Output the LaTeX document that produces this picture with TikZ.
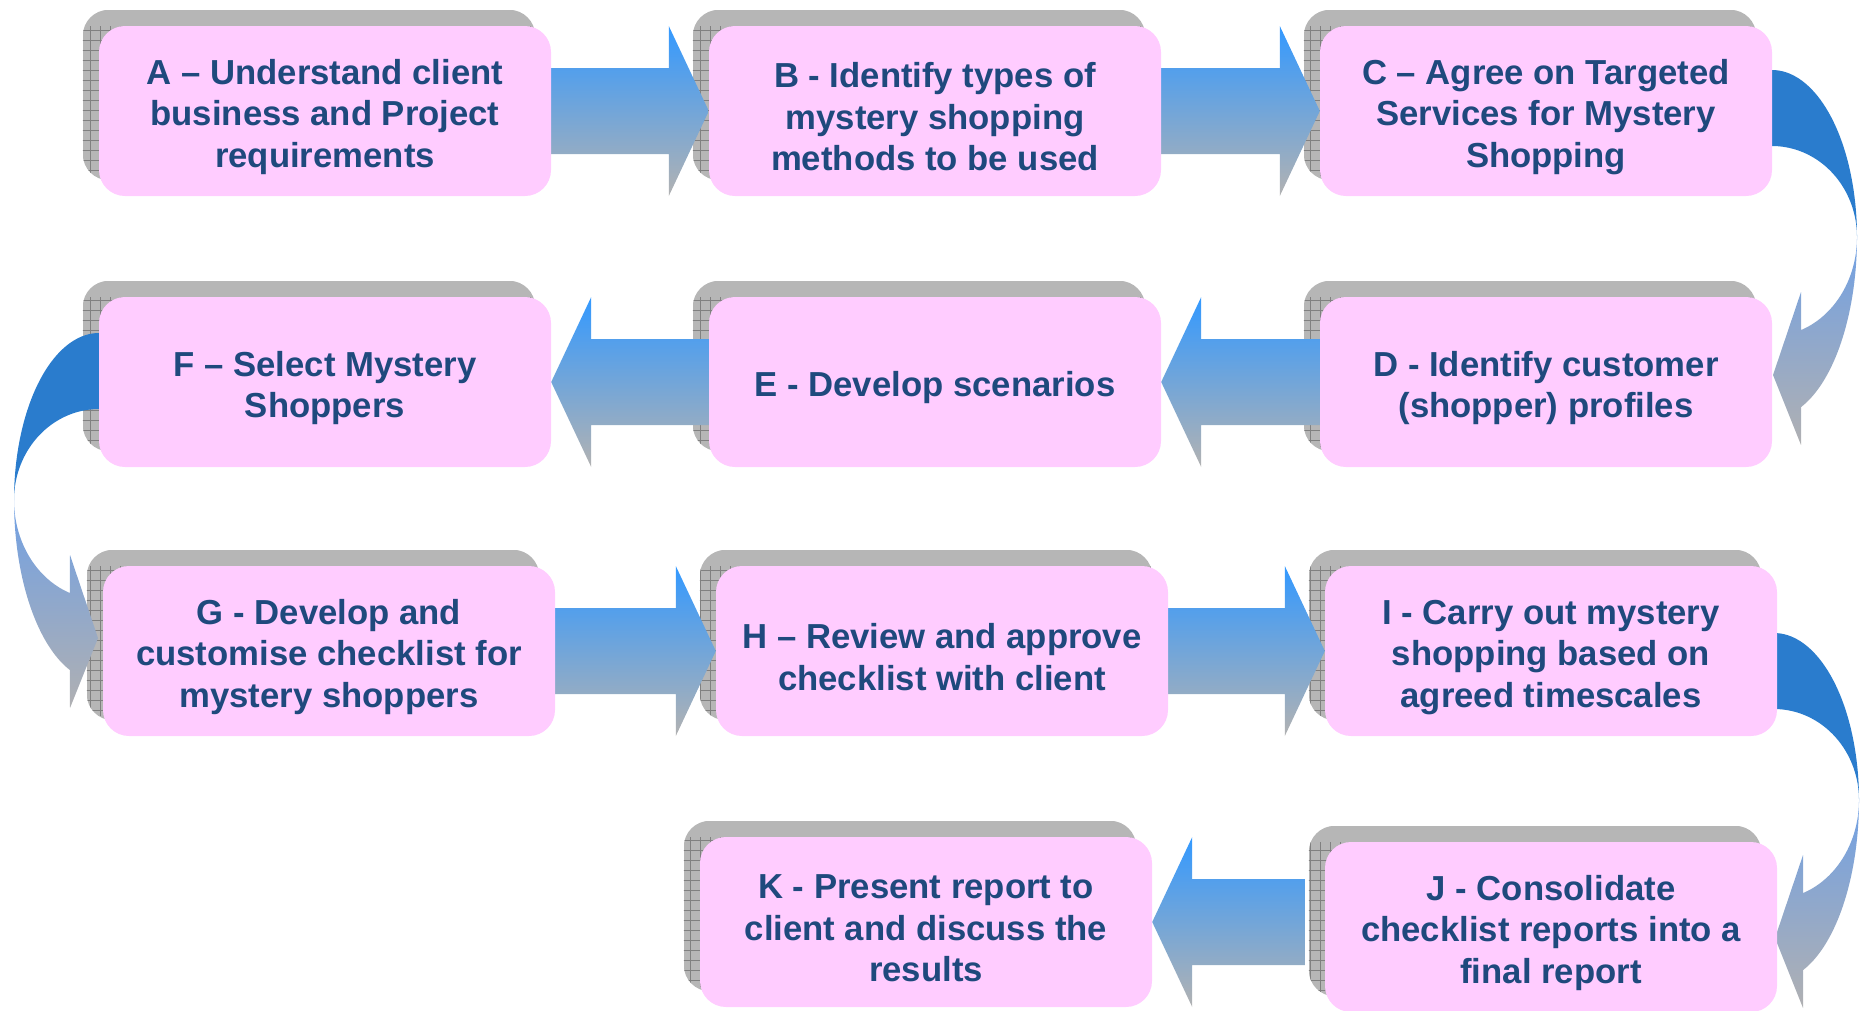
\documentclass[tikz,border=0pt]{standalone}
\usepackage{fontspec}
\setmainfont{Liberation Sans}
\usetikzlibrary{calc}

\definecolor{boxpink}{RGB}{255,204,255}
\definecolor{boxtext}{RGB}{31,73,125}
\definecolor{shadowgray}{RGB}{182,182,182}
\definecolor{shadowline}{RGB}{128,128,128}
\definecolor{flowtop}{RGB}{51,153,255}
\definecolor{flowbottom}{RGB}{178,178,178}
\definecolor{bendback}{RGB}{42,124,205}
\definecolor{bendtop}{RGB}{112,160,228}
\definecolor{bendbottom}{RGB}{176,176,178}

\pgfdeclarelayer{shadowlayer}
\pgfdeclarelayer{arrowlayer}
\pgfsetlayers{shadowlayer,arrowlayer,main}

% tall strut opening the first text line of a step
\newcommand\lift{\rule{0pt}{37pt}}

\tikzset{
  stepbox/.style={rectangle, rounded corners=26pt, fill=boxpink,
    minimum width=452pt, minimum height=170pt, inner sep=0pt,
    align=center, text=boxtext,
    font=\fontsize{34.7pt}{41.6pt}\selectfont\bfseries},
  flowarrow/.style={top color=flowtop, bottom color=flowbottom, draw=none},
  bendfront/.style={top color=bendtop, bottom color=bendbottom, draw=none},
}

% block arrow pointing right, from box #1 to box #2
\newcommand\rightflow[2]{%
  \shade[flowarrow] ($(#1.east |- #2.west)+(-6,-43)$) -- ($(#2.west)+(-40,-43)$)
    -- ($(#2.west)+(-40,-85)$) -- (#2.west) -- ($(#2.west)+(-40,85)$)
    -- ($(#2.west)+(-40,43)$) -- ($(#1.east |- #2.west)+(-6,43)$) -- cycle;}
% block arrow pointing left, from box #1 to box #2; #3 = tail offset from #1's left edge
\newcommand\leftflow[3]{%
  \shade[flowarrow] ($(#1.west |- #2.east)+(#3,-43)$) -- ($(#2.east)+(40,-43)$)
    -- ($(#2.east)+(40,-85)$) -- (#2.east) -- ($(#2.east)+(40,85)$)
    -- ($(#2.east)+(40,43)$) -- ($(#1.west |- #2.east)+(#3,43)$) -- cycle;}
% curved arrow turning down a row: #1 x of the box edge, #2 y of the bend, #3 side (1 right, -1 left)
\newcommand\bendarrow[3]{%
  \fill[bendback]
    plot[variable=\t,domain=-90:0,samples=40] ({#1+(#3)*85*cos(\t)},{#2+167*sin(\t)})
    -- plot[variable=\t,domain=0:-90,samples=40] ({#1+(#3)*85*cos(\t)},{#2+91*sin(\t)})
    -- cycle;
  \shade[bendfront]
    plot[variable=\t,domain=0:70,samples=40] ({#1+(#3)*85*cos(\t)},{#2+181*sin(\t)})
    -- ({#1+(#3)*29},{#2+208}) -- ({#1+(#3)*1},{#2+138}) -- ({#1+(#3)*29},{#2+55})
    -- plot[variable=\t,domain=70:0,samples=40] ({#1+(#3)*85*cos(\t)},{#2+99*sin(\t)})
    -- cycle;}

\begin{document}
\begin{tikzpicture}[x=1pt,y=-1pt]
\useasboundingbox (0,0) rectangle (1865,1010);

% process steps
\node[stepbox] (A) at (325,111) {\lift A – Understand client\\business and Project\\requirements};
\node[stepbox] (B) at (935,111) {\lift B - Identify types of\\mystery shopping\\methods to be used};
\node[stepbox] (C) at (1546,111) {\lift C – Agree on Targeted\\Services for Mystery\\Shopping};
\node[stepbox] (D) at (1546,382) {\lift D - Identify customer\\(shopper) profiles};
\node[stepbox] (E) at (935,382) {\lift E - Develop scenarios};
\node[stepbox] (F) at (325,382) {\lift F – Select Mystery\\Shoppers};
\node[stepbox] (G) at (329,651) {\lift G - Develop and\\customise checklist for\\mystery shoppers};
\node[stepbox] (H) at (942,651) {\lift H – Review and approve\\checklist with client};
\node[stepbox] (I) at (1551,651) {\lift I - Carry out mystery\\shopping based on\\agreed timescales};
\node[stepbox] (J) at (1551,927) {\lift J - Consolidate\\checklist reports into a\\final report};
\node[stepbox] (K) at (926,922) {\lift K - Present report to\\client and discuss the\\results};

% hatched drop shadows behind the steps
\begin{pgfonlayer}{shadowlayer}
\foreach \n in {A,B,C,D,E,F,G,H,I,J,K} {
  \begin{scope}
    \clip[rounded corners=26pt] ($(\n.south west)+(-16,-16)$) rectangle ($(\n.north east)+(-16,-16)$);
    \fill[shadowgray] ($(\n.south west)+(-16,-16)$) rectangle ($(\n.north east)+(-16,-16)$);
    \draw[shadowline, line width=1pt, step=10pt] ($(\n.south west)+(-20,-20)$) grid (\n.north east);
  \end{scope}
}
\end{pgfonlayer}

% flow arrows
\begin{pgfonlayer}{arrowlayer}
\rightflow{A}{B}
\rightflow{B}{C}
\bendarrow{1772}{237}{1}
\leftflow{D}{E}{6}
\leftflow{E}{F}{6}
\bendarrow{99}{500}{-1}
\rightflow{G}{H}
\rightflow{H}{I}
\bendarrow{1774}{800}{1}
\leftflow{J}{K}{-20}
\end{pgfonlayer}
\end{tikzpicture}
\end{document}
